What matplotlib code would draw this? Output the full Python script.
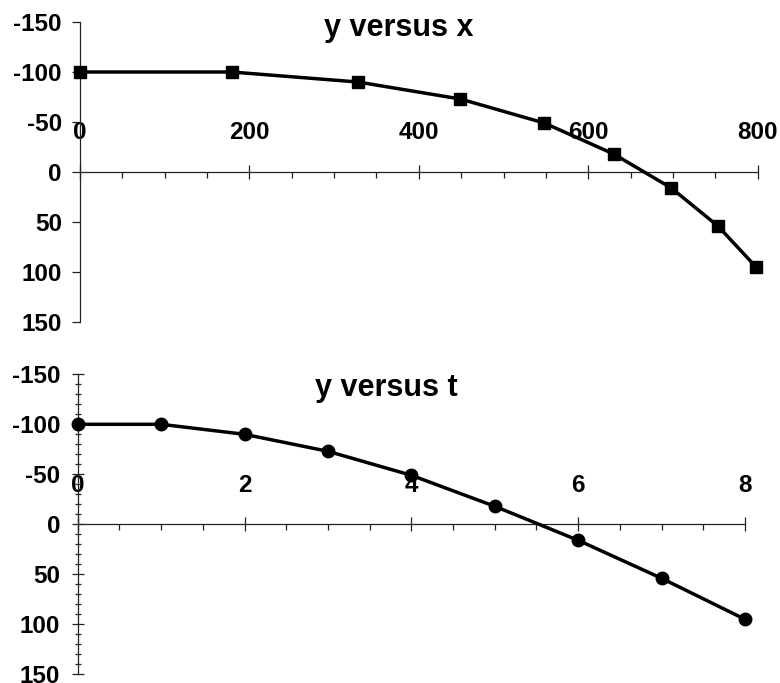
import numpy as np
import matplotlib
matplotlib.use('Agg')
import matplotlib.pyplot as plt
from matplotlib.ticker import MultipleLocator

plt.rcParams['font.family'] = ['Liberation Sans', 'DejaVu Sans']
plt.rcParams['font.weight'] = 'bold'
plt.rcParams['axes.unicode_minus'] = False

# data
x_pos = [0, 179, 328, 449, 548, 630, 698, 753, 798]
t_vals = [0, 1, 2, 3, 4, 5, 6, 7, 8]
y_vals = [-100, -100, -90, -73, -49, -18, 16, 54, 95]

fig = plt.figure(figsize=(7.8, 6.83), dpi=100)
W, H = 780., 683.

ax1 = fig.add_axes([80 / W, 1 - 322 / H, 677.7 / W, 300 / H])
ax2 = fig.add_axes([77.7 / W, 1 - 674.3 / H, 667.3 / W, 300 / H])


def style_axes(ax, xmax, xmajor, xminor, ymode):
    ax.set_xlim(0, xmax)
    ax.set_ylim(150, -150)
    ax.patch.set_visible(False)
    for s in ['bottom', 'right']:
        ax.spines[s].set_visible(False)
    ax.spines['top'].set_position(('data', 0))
    for s in ['top', 'left']:
        ax.spines[s].set_linewidth(0.9)
        ax.spines[s].set_color('#222222')
    ax.xaxis.set_ticks_position('top')
    ax.xaxis.set_major_locator(MultipleLocator(xmajor))
    ax.xaxis.set_minor_locator(MultipleLocator(xminor))
    ax.tick_params(axis='x', which='major', direction='inout', length=10,
                   width=0.9, pad=15, labelsize=17.5, labeltop=True,
                   labelbottom=False, color='#222222')
    ax.tick_params(axis='x', which='minor', direction='in', length=4.5,
                   width=0.9, color='#222222')
    ax.yaxis.set_major_locator(MultipleLocator(50))
    if ymode == 'out':
        ax.tick_params(axis='y', which='major', direction='out', length=6,
                       width=0.9, pad=7, labelsize=17.5, color='#222222')
    else:
        ax.yaxis.set_minor_locator(MultipleLocator(10))
        ax.tick_params(axis='y', which='major', direction='inout', length=8,
                       width=0.9, pad=8.7, labelsize=17.5, color='#222222')
        ax.tick_params(axis='y', which='minor', direction='inout', length=4.5,
                       width=0.9, color='#222222')


style_axes(ax1, 800, 200, 50, 'out')
style_axes(ax2, 8, 2, 0.5, 'inout')

ax1.plot(x_pos, y_vals, color='black', linewidth=2.5, marker='s',
         markersize=8, clip_on=False, zorder=5)
ax2.plot(t_vals, y_vals, color='black', linewidth=2.5, marker='o',
         markersize=9, clip_on=False, zorder=5)

fig.text(398.6 / W, 1 - 36 / H, 'y versus x', fontsize=22, fontweight='bold',
         ha='center', va='baseline')
fig.text(386.7 / W, 1 - 396 / H, 'y versus t', fontsize=22, fontweight='bold',
         ha='center', va='baseline')

fig.savefig('out.png', dpi=100)
